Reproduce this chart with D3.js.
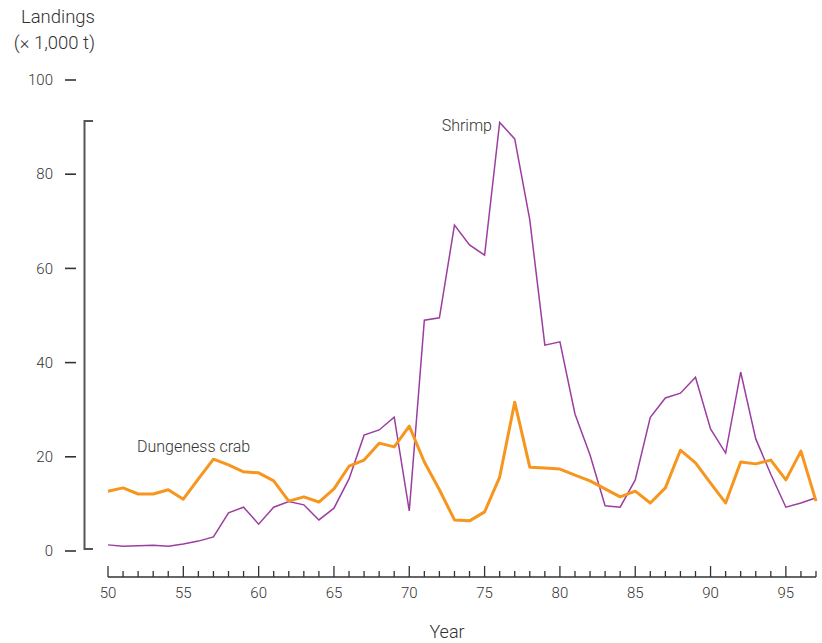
<!DOCTYPE html>
<html>
<head>
<meta charset="utf-8">
<script src="https://cdn.jsdelivr.net/npm/d3@7"></script>
<style>
  html, body { margin: 0; padding: 0; background: #fff; }
  svg text { font-family: Roboto, "Liberation Sans", sans-serif; font-weight: 300; fill: #333; }
</style>
</head>
<body>
<svg id="chart" width="822" height="643"></svg>
<script>
// Annual landings, thousands of tonnes, 1950–1997
const years = d3.range(1950, 1998);
const shrimp = [1.3, 1.0, 1.1, 1.2, 1.0, 1.5, 2.1, 3.0, 8.1, 9.3,
                5.7, 9.3, 10.5, 9.8, 6.6, 9.1, 15.3, 24.6, 25.7, 28.4,
                8.5, 49.0, 49.5, 69.2, 65.0, 62.8, 91.0, 87.5, 70.3, 43.7,
                44.4, 29.1, 20.4, 9.6, 9.3, 15.1, 28.4, 32.5, 33.5, 36.9,
                25.9, 20.8, 38.0, 23.8, 16.3, 9.3, 10.2, 11.3];
const crab = [12.7, 13.4, 12.1, 12.1, 13.0, 11.0, 15.3, 19.5, 18.3, 16.8,
              16.6, 14.9, 10.6, 11.5, 10.4, 13.2, 18.0, 19.3, 22.9, 22.1,
              26.5, 18.9, 13.0, 6.6, 6.4, 8.3, 15.7, 31.6, 17.8, 17.6,
              17.4, 16.1, 14.9, 13.2, 11.5, 12.7, 10.2, 13.4, 21.4, 18.7,
              14.4, 10.2, 18.9, 18.5, 19.3, 15.1, 21.2, 10.6];
const yTicks = [0, 20, 40, 60, 80, 100];
const xTickLabels = ["50", "55", "60", "65", "70", "75", "80", "85", "90", "95"];

const svg = d3.select("#chart");

const x = d3.scaleLinear().domain([1950, 1997]).range([108, 816]);
const y = d3.scaleLinear().domain([0, 100]).range([551, 80]);

// Y axis: bracket line spanning the data range
const axisColor = "#555";
svg.append("path")
  .attr("d", `M93,${y(91.3)}H84.5V${y(0.4)}H93`)
  .attr("fill", "none").attr("stroke", axisColor).attr("stroke-width", 2);

// Y tick dashes and labels
const yg = svg.append("g");
yg.selectAll("line").data(yTicks).join("line")
  .attr("x1", 65).attr("x2", 76)
  .attr("y1", d => y(d)).attr("y2", d => y(d))
  .attr("stroke", "#333").attr("stroke-width", 1.6);
yg.selectAll("text").data(yTicks).join("text")
  .attr("x", 53).attr("y", d => y(d)).attr("dy", "0.35em")
  .attr("text-anchor", "end").attr("font-size", 15).text(d => d);

// X axis with upward ticks, major every 5 years
const xg = svg.append("g").attr("transform", "translate(0,577)");
xg.append("line").attr("x1", x(1950)).attr("x2", x(1997))
  .attr("stroke", "#333").attr("stroke-width", 1.5);
xg.selectAll("line.tick").data(years).join("line")
  .attr("class", "tick")
  .attr("x1", d => x(d)).attr("x2", d => x(d))
  .attr("y1", 0).attr("y2", d => d % 5 === 0 ? -11 : -6)
  .attr("stroke", "#333").attr("stroke-width", 1.3);
xg.selectAll("text").data(xTickLabels).join("text")
  .attr("x", d => x(1900 + +d)).attr("y", 16).attr("dy", "0.35em")
  .attr("text-anchor", "middle").attr("font-size", 15).text(d => d);

// Axis titles
svg.append("text").attr("x", 95).attr("y", 23).attr("text-anchor", "end")
  .attr("font-size", 18.5).text("Landings");
svg.append("text").attr("x", 95).attr("y", 49).attr("text-anchor", "end")
  .attr("font-size", 18.5).text("(× 1,000 t)");
svg.append("text").attr("x", 447).attr("y", 638).attr("text-anchor", "middle")
  .attr("font-size", 18).text("Year");

// Series lines
const line = d3.line().x((d, i) => x(years[i])).y(d => y(d));
svg.append("path").datum(shrimp).attr("d", line)
  .attr("fill", "none").attr("stroke", "#9b3ea0").attr("stroke-width", 1.5)
  .attr("stroke-linejoin", "miter");
svg.append("path").datum(crab).attr("d", line)
  .attr("fill", "none").attr("stroke", "#f7961e").attr("stroke-width", 3)
  .attr("stroke-linejoin", "round");

// Series labels
svg.append("text").attr("x", 492).attr("y", 131).attr("text-anchor", "end")
  .attr("font-size", 16).text("Shrimp");
svg.append("text").attr("x", 137).attr("y", 452)
  .attr("font-size", 16).text("Dungeness crab");
</script>
</body>
</html>
